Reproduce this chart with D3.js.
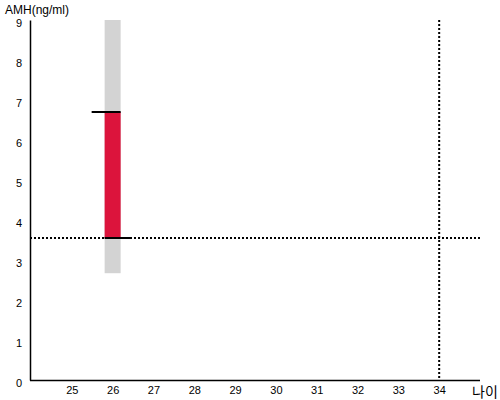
<!DOCTYPE html>
<html><head><meta charset="utf-8">
<script src="https://cdn.jsdelivr.net/npm/d3@7"></script>
<style>body{margin:0;background:#fff}</style>
</head><body>
<svg id="c" width="500" height="400"></svg>
<script>
const xTicks = [25,26,27,28,29,30,31,32,33,34];
const yTicks = [0,1,2,3,4,5,6,7,8,9];
const rangeBar = {age: 26, low: 2.67, high: 9};
const valueBar = {age: 26, low: 3.55, high: 6.7};
const refAge = 34;
const refValue = 3.55;
const xLabel = "나이";
const yLabel = "AMH(ng/ml)";

const svg = d3.select("#c");
const x = d3.scaleLinear().domain([24,35]).range([31,480]);
const y = d3.scaleLinear().domain([0,9]).range([380,20]);
const font = "Liberation Sans, Arial, sans-serif";

svg.append("rect").attr("x", x(rangeBar.age)-8).attr("width",16)
  .attr("y", y(rangeBar.high)).attr("height", y(rangeBar.low)-y(rangeBar.high))
  .attr("fill","#d3d3d3");
svg.append("rect").attr("x", x(valueBar.age)-8).attr("width",16)
  .attr("y", y(valueBar.high)).attr("height", y(valueBar.low)-y(valueBar.high))
  .attr("fill","#dc143c");
svg.append("line").attr("x1", x(valueBar.age)-21).attr("x2", x(valueBar.age)+8)
  .attr("y1", y(valueBar.high)).attr("y2", y(valueBar.high))
  .attr("stroke","#000").attr("stroke-width",2);
svg.append("line").attr("x1", x(valueBar.age)-8).attr("x2", x(valueBar.age)+19)
  .attr("y1", y(valueBar.low)).attr("y2", y(valueBar.low))
  .attr("stroke","#000").attr("stroke-width",2);

svg.append("line").attr("x1", 30).attr("x2", 480)
  .attr("y1", y(refValue)).attr("y2", y(refValue))
  .attr("stroke","#000").attr("stroke-width",2).attr("stroke-dasharray","2,2");
svg.append("line").attr("x1", x(refAge)).attr("x2", x(refAge))
  .attr("y1", y(9)).attr("y2", y(0))
  .attr("stroke","#000").attr("stroke-width",2).attr("stroke-dasharray","2,2");

const xAxis = svg.append("g").attr("transform","translate(0,380)")
  .call(d3.axisBottom(x).tickValues(xTicks).tickFormat(d3.format("d")).tickSize(0).tickPadding(6));
xAxis.select(".domain").attr("d","M30,0.5H480").attr("stroke-width",1.5);
xAxis.selectAll("text").attr("font-family",font).attr("font-size",11).attr("fill","#000");

const yAxis = svg.append("g").attr("transform","translate(30,0)")
  .call(d3.axisLeft(y).tickValues(yTicks).tickFormat(d3.format("d")).tickSize(0).tickPadding(8));
yAxis.select(".domain").attr("stroke-width",1.5);
yAxis.selectAll("text").attr("font-family",font).attr("font-size",11).attr("fill","#000")
  .attr("dy","0.6em");

svg.append("text").attr("x",5).attr("y",14).text(yLabel)
  .attr("font-family",font).attr("font-size",12).attr("fill","#000");
svg.append("text").attr("x",472).attr("y",397).text(xLabel)
  .attr("font-family","Noto Sans CJK KR, sans-serif").attr("font-size",14).attr("fill","#000");
</script>
</body></html>
